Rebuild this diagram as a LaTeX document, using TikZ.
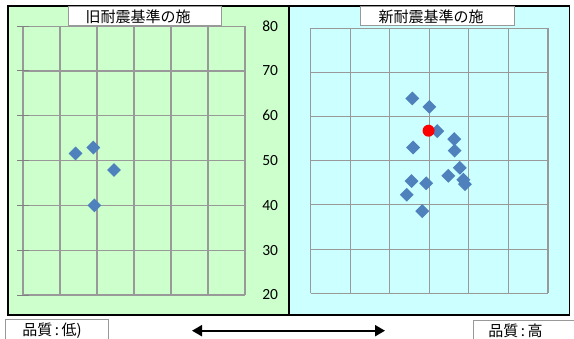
\documentclass[tikz,border=0pt]{standalone}
\usepackage{fontspec}
\setmainfont{Carlito}
\newfontfamily\jpfont{Noto Sans CJK JP}
\usetikzlibrary{shapes.geometric,arrows.meta}
\definecolor{oldbg}{HTML}{CCFFCC}
\definecolor{newbg}{HTML}{CCFFFF}
\definecolor{ptblue}{HTML}{4F81BD}
\definecolor{gridgray}{HTML}{999999}
\tikzset{
  datapt/.style={diamond, fill=ptblue, inner sep=0pt, minimum size=14pt},
  labelbox/.style={draw=gridgray, fill=white, line width=1pt, inner sep=0pt},
  ylab/.style={font=\fontsize{15.5}{18}\selectfont, inner sep=0pt},
  jptext/.style={font=\jpfont\fontsize{15}{17}\selectfont, inner sep=0pt},
  gridline/.style={gridgray, line width=1.1pt},
}
\begin{document}
\begin{tikzpicture}[x=1pt, y=1pt]
    \useasboundingbox (0,0) rectangle (574,338);
    \clip (0,0) rectangle (574,338);
    % panels
    \draw[fill=oldbg, line width=1.5pt] (8,23) rectangle (289,332);
    \draw[fill=newbg, line width=1.5pt] (289,23) rectangle (569.5,332);
    % old standard
    \begin{scope}[shift={(23,-46.6)}, x=37pt, y=4.48pt]
        \foreach \u in {0,...,6} \draw[gridline] (\u,20) -- (\u,80);
        \foreach \v in {20,30,...,80} {
            \draw[gridline] (0,\v) -- (6,\v);
            \draw[gray, line width=1pt] (-0.16,\v) -- (0.16,\v);
            \node[ylab] (y\v) at (6.68,\v) {\v};
        }
        \foreach \u/\v [count=\i] in {1.42/51.6, 1.90/52.9, 2.46/47.9, 1.93/40.0}
            \node[datapt] (old\i) at (\u,\v) {};
    \end{scope}
    % new standard
    \begin{scope}[shift={(310.7,-43.6)}, x=39.55pt, y=4.417pt]
        \foreach \u in {0,...,6} \draw[gridline] (\u,20) -- (\u,80);
        \foreach \v in {20,30,...,80} \draw[gridline] (0,\v) -- (6,\v);
        \foreach \u/\v [count=\i] in {2.57/64.1, 3.00/62.2, 3.20/56.7, 3.63/54.9,
            2.59/53.0, 3.64/52.3, 3.77/48.4, 3.48/46.6, 3.86/45.7, 3.90/44.7,
            2.55/45.4, 2.92/44.9, 2.43/42.3, 2.82/38.6}
            \node[datapt] (new\i) at (\u,\v) {};
        \fill[red] (2.98,56.8) circle (6pt);
    \end{scope}
    % titles
    \node[labelbox, minimum width=153pt, minimum height=19pt] (oldbox) at (144.5,321.5) {};
    \node[jptext] (oldtitle) at (138,321) {旧耐震基準の施};
    \node[labelbox, minimum width=154pt, minimum height=19pt] (newbox) at (437,321.5) {};
    \node[jptext] (newtitle) at (431,321) {新耐震基準の施};
    % quality
    \node[labelbox, anchor=north west, minimum width=103pt, minimum height=30pt] (lowbox) at (5,19) {};
    \node[jptext] (lowtext) at (52,7.5) {品質\,:\,低)};
    \node[labelbox, anchor=north west, minimum width=120pt, minimum height=30pt] (highbox) at (473.3,18) {};
    \node[jptext] (hightext) at (515.5,7.5) {品質\,:\,高};
    \coordinate (arrowL) at (192,7.3);
    \coordinate (arrowR) at (385,7.3);
    \draw[line width=2pt, {Triangle[length=10pt,width=11pt]}-{Triangle[length=10pt,width=11pt]}] (arrowL) -- (arrowR);
\end{tikzpicture}
\end{document}
